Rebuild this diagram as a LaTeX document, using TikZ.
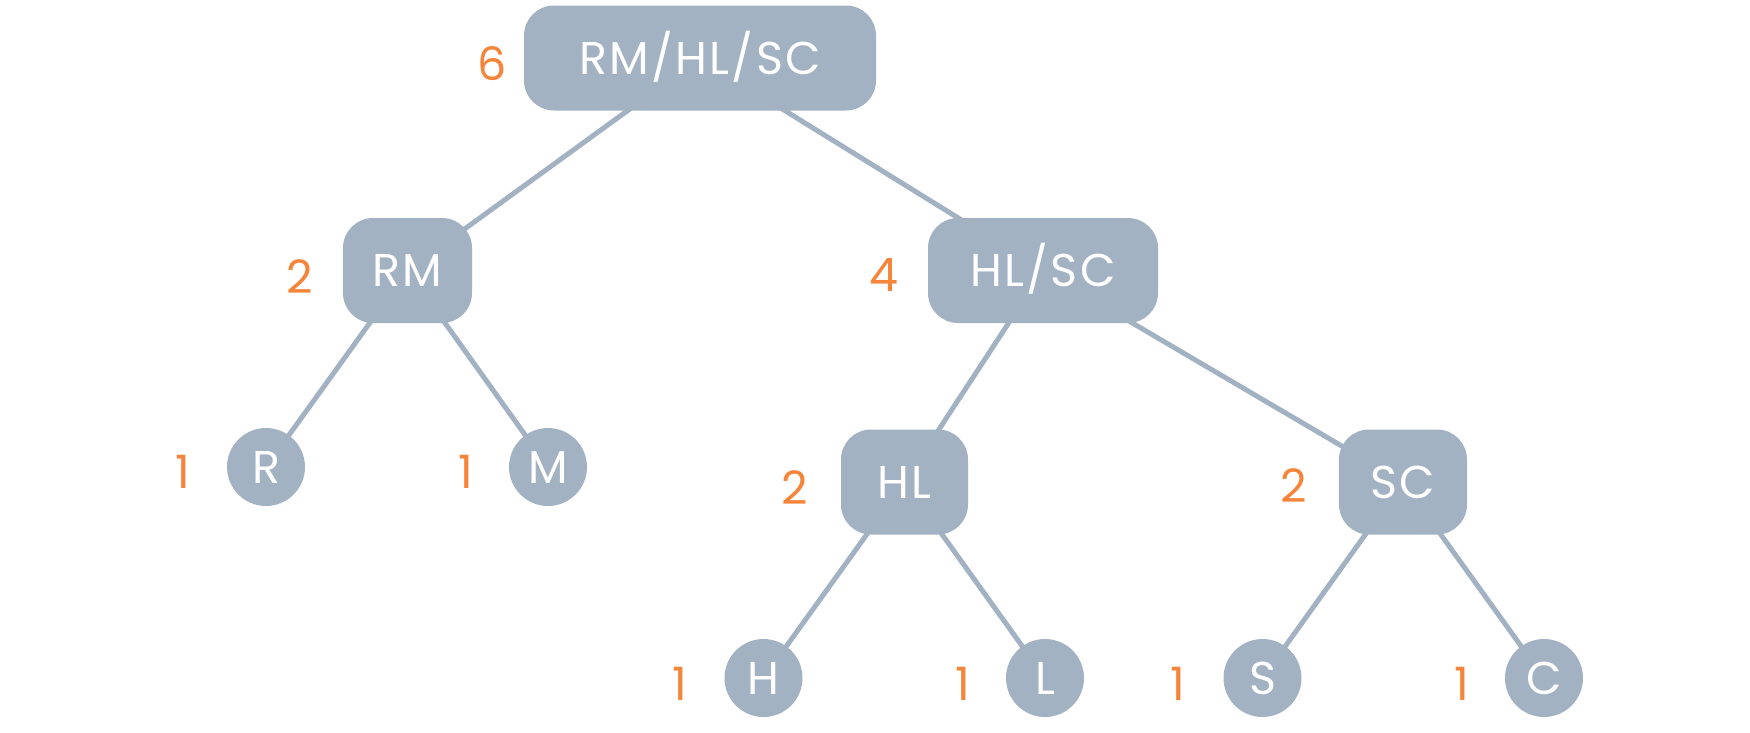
\documentclass[tikz,border=0pt]{standalone}
\usepackage{fontspec}
\setmainfont{Poppins}
\newfontfamily\labelfont[LetterSpace=5]{Poppins}
\usetikzlibrary{backgrounds}
\definecolor{nodecol}{HTML}{A2B2C2}
\definecolor{numcol}{HTML}{F5853A}
\tikzset{
  every node/.style={font=\fontsize{46}{50}\selectfont},
  box/.style={fill=nodecol, draw=none, rounded corners=30pt, text=white, inner sep=0pt,
    font=\labelfont\fontsize{46}{50}\selectfont,
    minimum height=105pt, text height=32pt, text depth=0pt},
  leaf/.style={circle, fill=nodecol, draw=none, text=white, inner sep=0pt,
    font=\labelfont\fontsize{46}{50}\selectfont,
    minimum size=78pt, text height=32pt, text depth=0pt},
  num/.style={text=numcol, inner sep=0pt},
  edge/.style={draw=nodecol, line width=5pt}
}
\begin{document}
\begin{tikzpicture}[x=1pt,y=-1pt]
\useasboundingbox (0,0) rectangle (1750,732);
% internal nodes
\node[box, minimum width=352pt] (root) at (700,58) {RM/HL/SC};
\node[box, minimum width=129pt] (rm) at (407.5,270.5) {RM};
\node[box, minimum width=230pt] (hlsc) at (1043,270.5) {HL/SC};
\node[box, minimum width=127pt] (hl) at (904.5,482) {HL};
\node[box, minimum width=128pt] (sc) at (1403,482) {SC};
% leaves
\node[leaf] (r) at (266,467) {R};
\node[leaf] (m) at (548,467) {M};
\node[leaf] (h) at (763.5,678) {H};
\node[leaf] (l) at (1045,678) {L};
\node[leaf] (s) at (1262.5,678) {S};
\node[leaf] (c) at (1544,678) {C};
% weights
\node[num] (n6) at (492,64) {6};
\node[num] (n2a) at (299.5,277) {2};
\node[num] (n1r) at (183,472) {1};
\node[num] (n1m) at (465.5,472) {1};
\node[num] (n4) at (884,275) {4};
\node[num] (n2b) at (795,488) {2};
\node[num] (n2c) at (1294,486) {2};
\node[num] (n1h) at (680,684) {1};
\node[num] (n1l) at (962.5,684) {1};
\node[num] (n1s) at (1178,684) {1};
\node[num] (n1c) at (1461.5,684) {1};
% edges
\begin{scope}[on background layer]
\draw[edge] (root.center) -- (rm.center);
\draw[edge] (root.center) -- (hlsc.center);
\draw[edge] (rm.center) -- (r.center);
\draw[edge] (rm.center) -- (m.center);
\draw[edge] (hlsc.center) -- (hl.center);
\draw[edge] (hlsc.center) -- (sc.center);
\draw[edge] (hl.center) -- (h.center);
\draw[edge] (hl.center) -- (l.center);
\draw[edge] (sc.center) -- (s.center);
\draw[edge] (sc.center) -- (c.center);
\end{scope}
\end{tikzpicture}
\end{document}
